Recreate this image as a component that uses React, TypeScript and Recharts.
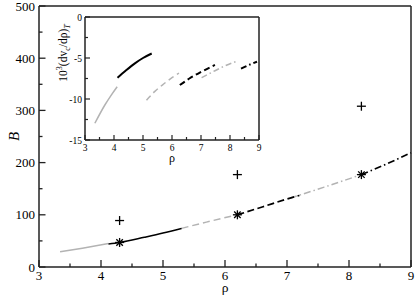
import React from 'react';
import { ComposedChart, Line, Scatter, XAxis, YAxis, ReferenceLine, Label } from 'recharts';

// ---- Main chart data (rho vs B) ----
const mainSolidGray = [ { x: 3.34, y: 29 }, { x: 3.7, y: 36 }, { x: 4.12, y: 45 } ];
const mainSolidBlack = [ { x: 4.12, y: 44 }, { x: 4.3, y: 47 }, { x: 4.7, y: 57 }, { x: 5.0, y: 65 }, { x: 5.3, y: 74 } ];
const mainDashGray = [ { x: 5.3, y: 74 }, { x: 5.7, y: 86 }, { x: 6.2, y: 100 } ];
const mainDashBlack = [ { x: 6.2, y: 100 }, { x: 6.6, y: 115 }, { x: 7.05, y: 132 }, { x: 7.2, y: 137 } ];
const mainDashDotGray = [ { x: 7.05, y: 132 }, { x: 7.6, y: 153 }, { x: 8.2, y: 177 } ];
const mainDashDotBlack = [ { x: 8.2, y: 177 }, { x: 8.6, y: 197 }, { x: 9.0, y: 219 } ];
const plusPoints = [ { x: 4.3, y: 89 }, { x: 6.2, y: 177 }, { x: 8.2, y: 308 } ];
const starPoints = [ { x: 4.3, y: 47 }, { x: 6.2, y: 100 }, { x: 8.2, y: 177 } ];

const mainXTicks = [3, 3.5, 4, 4.5, 5, 5.5, 6, 6.5, 7, 7.5, 8, 8.5, 9];
const mainYTicks = [0, 50, 100, 150, 200, 250, 300, 350, 400, 450, 500];

// ---- Inset data (rho vs 10^3 dv_c/drho) ----
const insetSolidGray = [ { x: 3.34, y: -12.96 }, { x: 3.69, y: -10.7 }, { x: 3.9, y: -9.55 }, { x: 4.11, y: -8.5 } ];
const insetSolidBlack = [ { x: 4.12, y: -7.4 }, { x: 4.4, y: -6.55 }, { x: 4.72, y: -5.65 }, { x: 5.0, y: -5.0 }, { x: 5.3, y: -4.45 } ];
const insetDashGray = [ { x: 5.12, y: -10.15 }, { x: 5.4, y: -9.1 }, { x: 5.7, y: -8.2 }, { x: 6.0, y: -7.4 }, { x: 6.24, y: -6.85 } ];
const insetDashBlack = [ { x: 6.27, y: -8.3 }, { x: 6.6, y: -7.5 }, { x: 7.0, y: -6.7 }, { x: 7.48, y: -5.85 } ];
const insetDashDotGray = [ { x: 7.02, y: -7.4 }, { x: 7.4, y: -6.7 }, { x: 7.8, y: -6.0 }, { x: 8.23, y: -5.4 } ];
const insetDashDotBlack = [ { x: 8.38, y: -6.3 }, { x: 8.65, y: -5.85 }, { x: 8.93, y: -5.45 } ];

const insetXTicks = [3, 3.5, 4, 4.5, 5, 5.5, 6, 6.5, 7, 7.5, 8, 8.5, 9];
const insetYTicks = [-15, -12.5, -10, -7.5, -5, -2.5, 0];

const FONT = "'Liberation Serif', 'Times New Roman', 'DejaVu Serif', serif";
const TS: React.CSSProperties = { fontFamily: FONT };
const GRAY = '#b3b3b3';
const AXIS = '#222';

const MainXTick = (p: any) => {
  const v = p.payload.value;
  const major = Number.isInteger(v);
  return (
    <g>
      <line x1={p.x} x2={p.x} y1={p.y} y2={p.y - (major ? 7 : 3.5)} stroke={AXIS} strokeWidth={1.3} />
      {major && (
        <text x={p.x} y={p.y + 13} textAnchor="middle" fontSize={13} style={TS} fill="#000">{v}</text>
      )}
    </g>
  );
};

const MainYTick = (p: any) => {
  const v = p.payload.value;
  const major = v % 100 === 0;
  return (
    <g>
      <line x1={p.x} x2={p.x + (major ? 6.5 : 3.5)} y1={p.y} y2={p.y} stroke={AXIS} strokeWidth={1.3} />
      {major && (
        <text x={p.x - 4} y={p.y + 4.5} textAnchor="end" fontSize={13} style={TS} fill="#000">{v}</text>
      )}
    </g>
  );
};

const InsetXTick = (p: any) => {
  const v = p.payload.value;
  const major = Number.isInteger(v);
  return (
    <g>
      <line x1={p.x} x2={p.x} y1={p.y} y2={p.y - (major ? 5 : 3)} stroke={AXIS} strokeWidth={1.2} />
      {major && (
        <text x={p.x} y={p.y + 10.5} textAnchor="middle" fontSize={9.5} style={TS} fill="#000">{v}</text>
      )}
    </g>
  );
};

const InsetYTick = (p: any) => {
  const v = p.payload.value;
  const major = v % 5 === 0;
  return (
    <g>
      <line x1={p.x} x2={p.x + (major ? 5 : 3)} y1={p.y} y2={p.y} stroke={AXIS} strokeWidth={1.2} />
      {major && (
        <text x={p.x - 3} y={p.y + 3.5} textAnchor="end" fontSize={9.5} style={TS} fill="#000">{v}</text>
      )}
    </g>
  );
};

const PlusShape = (p: any) => {
  const s = 4.5;
  return (
    <g>
      <line x1={p.cx - s} x2={p.cx + s} y1={p.cy} y2={p.cy} stroke="#000" strokeWidth={1.3} />
      <line x1={p.cx} x2={p.cx} y1={p.cy - s} y2={p.cy + s} stroke="#000" strokeWidth={1.3} />
    </g>
  );
};

const StarShape = (p: any) => {
  const s = 4.5;
  const d = s * 0.72;
  return (
    <g stroke="#000" strokeWidth={1.3}>
      <line x1={p.cx - s} x2={p.cx + s} y1={p.cy} y2={p.cy} />
      <line x1={p.cx} x2={p.cx} y1={p.cy - s} y2={p.cy + s} />
      <line x1={p.cx - d} x2={p.cx + d} y1={p.cy - d} y2={p.cy + d} />
      <line x1={p.cx - d} x2={p.cx + d} y1={p.cy + d} y2={p.cy - d} />
    </g>
  );
};

const seg = (data: any[], color: string, dash: string | undefined, width: number, key: string) => (
  <Line
    key={key}
    data={data}
    dataKey="y"
    type="monotone"
    stroke={color}
    strokeWidth={width}
    strokeDasharray={dash}
    dot={false}
    activeDot={false}
    isAnimationActive={false}
  />
);

export default function App() {
  return (
    <div style={{ position: 'absolute', left: 0, top: 0, width: 415, height: 297, background: '#fff', fontFamily: FONT }}>
      <div style={{ position: 'absolute', left: 0, top: 0 }}>
        <ComposedChart width={415} height={297} margin={{ top: 6, right: 4, bottom: 0, left: 0 }}>
          <XAxis
            type="number"
            dataKey="x"
            domain={[3, 9]}
            ticks={mainXTicks}
            interval={0}
            height={30}
            tickSize={0}
            tickMargin={0}
            tickLine={false}
            tick={MainXTick}
            axisLine={{ stroke: AXIS, strokeWidth: 1.5 }}
          >
            <Label
              content={(props: any) => {
                const vb = props.viewBox;
                return (
                  <text x={vb.x + vb.width / 2} y={vb.y + 24.5} textAnchor="middle" fontSize={13.5} style={TS} fill="#000">ρ</text>
                );
              }}
            />
          </XAxis>
          <YAxis
            type="number"
            dataKey="y"
            domain={[0, 500]}
            ticks={mainYTicks}
            interval={0}
            width={39}
            tickSize={0}
            tickMargin={0}
            tickLine={false}
            tick={MainYTick}
            axisLine={{ stroke: AXIS, strokeWidth: 1.5 }}
          >
            <Label
              content={(props: any) => {
                const vb = props.viewBox;
                const cx = 19;
                const cy = vb.y + vb.height / 2;
                return (
                  <text x={cx} y={cy} transform={`rotate(-90, ${cx}, ${cy})`} textAnchor="middle" fontSize={15} fontStyle="italic" style={TS} fill="#000">B</text>
                );
              }}
            />
          </YAxis>
          <ReferenceLine y={500} stroke={AXIS} strokeWidth={1.5} />
          <ReferenceLine x={9} stroke={AXIS} strokeWidth={1.5} />
          {seg(mainSolidGray, GRAY, undefined, 1.5, 'm1')}
          {seg(mainDashGray, GRAY, '7 4', 1.5, 'm3')}
          {seg(mainDashDotGray, GRAY, '7 3 1.5 3', 1.5, 'm5')}
          {seg(mainSolidBlack, '#000', undefined, 1.5, 'm2')}
          {seg(mainDashBlack, '#000', '7 3.5', 1.7, 'm4')}
          {seg(mainDashDotBlack, '#000', '7 3 1.5 3', 1.7, 'm6')}
          <Scatter data={plusPoints} dataKey="y" shape={PlusShape} isAnimationActive={false} />
          <Scatter data={starPoints} dataKey="y" shape={StarShape} isAnimationActive={false} />
        </ComposedChart>
      </div>
      <div style={{ position: 'absolute', left: 45, top: 10 }}>
        <ComposedChart width={220} height={155} margin={{ top: 7, right: 6, bottom: 0, left: 0 }}>
          <XAxis
            type="number"
            dataKey="x"
            domain={[3, 9]}
            ticks={insetXTicks}
            interval={0}
            height={25}
            tickSize={0}
            tickMargin={0}
            tickLine={false}
            tick={InsetXTick}
            axisLine={{ stroke: AXIS, strokeWidth: 1.5 }}
          >
            <Label
              content={(props: any) => {
                const vb = props.viewBox;
                return (
                  <text x={vb.x + vb.width / 2} y={vb.y + 22} textAnchor="middle" fontSize={12} style={TS} fill="#000">ρ</text>
                );
              }}
            />
          </XAxis>
          <YAxis
            type="number"
            dataKey="y"
            domain={[-15, 0]}
            ticks={insetYTicks}
            interval={0}
            width={40}
            tickSize={0}
            tickMargin={0}
            tickLine={false}
            tick={InsetYTick}
            axisLine={{ stroke: AXIS, strokeWidth: 1.5 }}
          >
            <Label
              content={(props: any) => {
                const vb = props.viewBox;
                const cx = 22;
                const cy = vb.y + 36;
                return (
                  <text x={cx} y={cy} transform={`rotate(-90, ${cx}, ${cy})`} textAnchor="middle" fontSize={11.5} style={TS} fill="#000">
                    10<tspan dy={-5} fontSize={8}>3</tspan>
                    <tspan dy={5}>(dv</tspan>
                    <tspan dy={3} fontSize={8}>c</tspan>
                    <tspan dy={-3}>/dρ)</tspan>
                    <tspan dy={3} fontSize={8} fontStyle="italic">T</tspan>
                  </text>
                );
              }}
            />
          </YAxis>
          <ReferenceLine y={0} stroke={AXIS} strokeWidth={1.5} />
          <ReferenceLine x={9} stroke={AXIS} strokeWidth={1.5} />
          {seg(insetSolidGray, GRAY, undefined, 1.5, 'i1')}
          {seg(insetDashGray, GRAY, '6 4', 1.5, 'i3')}
          {seg(insetDashDotGray, GRAY, '6 3 1.5 3', 1.5, 'i5')}
          {seg(insetSolidBlack, '#000', undefined, 2, 'i2')}
          {seg(insetDashBlack, '#000', '6 3.5', 2, 'i4')}
          {seg(insetDashDotBlack, '#000', '6 3 1.5 3', 2, 'i6')}
        </ComposedChart>
      </div>
    </div>
  );
}
